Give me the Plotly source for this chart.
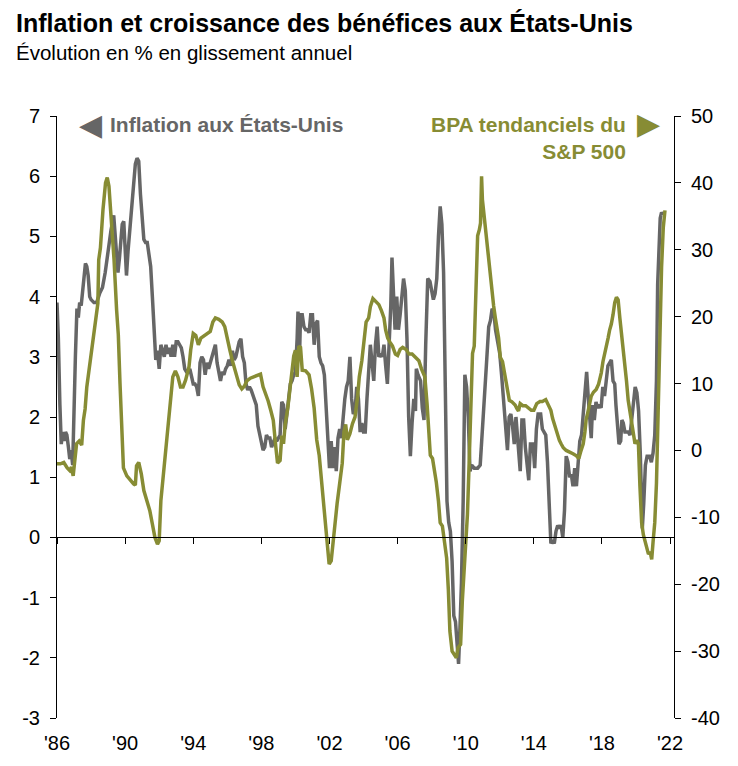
import plotly.graph_objects as go

# ---------------- data ----------------
infl_x = [1986.0, 1986.08, 1986.17, 1986.25, 1986.33, 1986.42, 1986.5, 1986.58, 1986.67, 1986.75, 1986.83, 1986.92,
          1987.08, 1987.17, 1987.25, 1987.33, 1987.42, 1987.5, 1987.58, 1987.67, 1987.75, 1987.83, 1987.92,
          1988.0, 1988.17, 1988.33, 1988.5, 1988.67, 1988.83, 1989.0, 1989.17, 1989.33, 1989.42, 1989.5, 1989.58,
          1989.67, 1989.75, 1989.83, 1989.92, 1990.0, 1990.08, 1990.17, 1990.25, 1990.4, 1990.5, 1990.6, 1990.7,
          1990.8, 1990.9, 1991.0, 1991.1, 1991.2, 1991.3, 1991.4, 1991.5, 1991.6, 1991.7, 1991.8, 1991.9,
          1992.0, 1992.1, 1992.2, 1992.3, 1992.4, 1992.5, 1992.6, 1992.7, 1992.8, 1992.9, 1993.0, 1993.1,
          1993.2, 1993.3, 1993.4, 1993.5, 1993.6, 1993.7, 1993.8, 1993.9, 1994.0, 1994.1, 1994.2, 1994.3,
          1994.4, 1994.5, 1994.6, 1994.7, 1994.8, 1994.9, 1995.0, 1995.1, 1995.2, 1995.3, 1995.4, 1995.5,
          1995.6, 1995.7, 1995.8, 1995.9, 1996.0, 1996.1, 1996.2, 1996.3, 1996.4, 1996.5, 1996.6, 1996.7,
          1996.8, 1996.9, 1997.0, 1997.1, 1997.2, 1997.3, 1997.4, 1997.5, 1997.6, 1997.7, 1997.8, 1997.9,
          1998.0, 1998.1, 1998.2, 1998.3, 1998.4, 1998.5, 1998.6, 1998.7, 1998.8, 1998.9, 1999.0, 1999.1,
          1999.2, 1999.3, 1999.4, 1999.5, 1999.6, 1999.7, 1999.8, 1999.9, 2000.0, 2000.1, 2000.15, 2000.2,
          2000.25, 2000.3, 2000.4, 2000.5, 2000.6, 2000.7, 2000.8, 2000.9, 2001.0, 2001.1, 2001.2, 2001.3,
          2001.4, 2001.5, 2001.6, 2001.7, 2001.8, 2001.9, 2002.0, 2002.1, 2002.2, 2002.3, 2002.4, 2002.5,
          2002.6, 2002.7, 2002.8, 2002.9, 2003.0, 2003.1, 2003.2, 2003.3, 2003.4, 2003.5, 2003.6, 2003.7,
          2003.8, 2003.9, 2004.0, 2004.1, 2004.2, 2004.3, 2004.4, 2004.5, 2004.6, 2004.7, 2004.8, 2004.9,
          2005.0, 2005.1, 2005.2, 2005.3, 2005.4, 2005.5, 2005.6, 2005.67, 2005.75, 2005.85, 2005.95, 2006.05,
          2006.15, 2006.25, 2006.35, 2006.45, 2006.55, 2006.65, 2006.75, 2006.85, 2006.95, 2007.05, 2007.1,
          2007.2, 2007.35, 2007.45, 2007.55, 2007.65, 2007.77, 2007.9, 2008.0, 2008.1, 2008.2, 2008.3, 2008.4,
          2008.5, 2008.6, 2008.7, 2008.8, 2008.9, 2009.0, 2009.1, 2009.2, 2009.3, 2009.4, 2009.5, 2009.58,
          2009.65, 2009.75, 2009.85, 2009.95, 2010.05, 2010.15, 2010.25, 2010.35, 2010.5, 2010.7, 2010.85,
          2010.95, 2011.05, 2011.2, 2011.35, 2011.45, 2011.55, 2011.65, 2011.75, 2011.85, 2012.0, 2012.12,
          2012.25, 2012.37, 2012.45, 2012.55, 2012.65, 2012.75, 2012.85, 2012.95, 2013.05, 2013.2, 2013.3,
          2013.4, 2013.5, 2013.6, 2013.7, 2013.8, 2013.95, 2014.05, 2014.15, 2014.25, 2014.4, 2014.5, 2014.6,
          2014.7, 2014.8, 2014.9, 2015.0, 2015.1, 2015.2, 2015.3, 2015.4, 2015.5, 2015.6, 2015.7, 2015.8,
          2015.9, 2016.0, 2016.1, 2016.2, 2016.3, 2016.4, 2016.5, 2016.6, 2016.7, 2016.8, 2016.9, 2017.0,
          2017.1, 2017.2, 2017.3, 2017.37, 2017.45, 2017.55, 2017.65, 2017.75, 2017.85, 2017.95, 2018.05,
          2018.15, 2018.25, 2018.35, 2018.45, 2018.55, 2018.65, 2018.75, 2018.82, 2018.92, 2019.0, 2019.1,
          2019.17, 2019.25, 2019.35, 2019.45, 2019.55, 2019.65, 2019.75, 2019.85, 2019.95, 2020.05, 2020.15,
          2020.25, 2020.3, 2020.37, 2020.45, 2020.55, 2020.65, 2020.8, 2020.9, 2021.0, 2021.1, 2021.2,
          2021.27, 2021.35, 2021.42, 2021.5, 2021.58]
infl_y = [3.9, 3.3, 2.2, 1.55, 1.75, 1.6, 1.75, 1.7, 1.5, 1.3, 1.45, 1.2,
          3.0, 3.8, 3.65, 3.9, 3.85, 4.1, 4.4, 4.55, 4.5, 4.35, 4.0,
          3.95, 3.9, 3.9, 4.05, 4.15, 4.4, 4.8, 5.1, 5.35, 5.0, 4.8, 4.4,
          4.65, 4.9, 5.2, 5.25, 4.7, 4.35, 4.75, 5.0, 5.5, 5.9, 6.2, 6.3,
          6.25, 5.7, 5.3, 4.95, 4.9, 4.9, 4.7, 4.5, 4.0, 3.5, 2.95, 3.1,
          2.8, 3.2, 3.1, 3.0, 3.2, 3.05, 3.15, 3.0, 3.2, 3.0, 3.25, 3.25,
          3.2, 3.15, 3.0, 2.8, 2.75, 2.75, 2.8, 2.7, 2.55, 2.55, 2.5, 2.35,
          2.9, 3.0, 2.95, 2.7, 2.9, 2.8, 2.9, 3.0, 3.15, 3.2, 2.9, 2.7,
          2.6, 2.75, 2.7, 2.8, 2.85, 2.95, 2.85, 3.1, 2.95, 3.0, 3.15, 3.25,
          3.3, 3.0, 2.9, 2.55, 2.45, 2.5, 2.45, 2.35, 2.25, 2.2, 1.85, 1.7,
          1.6, 1.45, 1.5, 1.7, 1.65, 1.65, 1.5, 1.6, 1.65, 1.6, 1.65, 1.7,
          2.25, 2.2, 1.8, 2.0, 2.3, 2.55, 2.6, 2.7, 2.75, 3.3, 3.75, 3.4,
          3.1, 3.7, 3.7, 3.5, 3.45, 3.45, 3.4, 3.7, 3.7, 3.2, 3.55, 3.6,
          3.0, 2.9, 2.85, 2.7, 2.15, 1.5, 1.15, 1.6, 1.15, 1.5, 1.1, 1.65,
          1.8, 1.65, 2.05, 2.3, 2.5, 2.6, 3.0, 2.3, 2.05, 2.1, 2.5, 2.3,
          1.75, 1.9, 1.75, 1.75, 2.3, 2.9, 3.2, 2.9, 2.6, 3.2, 3.5, 3.0,
          3.05, 3.0, 3.2, 2.85, 2.55, 3.2, 3.85, 4.65, 4.2, 3.45, 4.0, 3.45,
          3.7, 4.1, 4.3, 4.1, 3.3, 2.0, 1.35, 1.9, 2.3, 2.1, 2.8,
          2.7, 2.6, 2.15, 1.95, 3.2, 4.3, 4.25, 4.1, 3.95, 4.05, 4.3, 5.0,
          5.5, 5.2, 4.4, 2.5, 0.6, 0.25, 0.1, -0.4, -1.3, -1.4, -1.9, -2.1,
          -1.6, -0.75, 0.6, 2.7, 2.5, 2.0, 1.1, 1.2, 1.15, 1.15, 1.2,
          1.6, 2.1, 2.8, 3.5, 3.6, 3.8, 3.75, 3.45, 3.3, 3.05, 2.65,
          2.15, 1.85, 1.45, 2.0, 2.05, 1.85, 1.55, 2.0, 1.6, 1.1, 1.95,
          1.95, 1.5, 1.2, 0.95, 1.55, 1.55, 1.15, 1.8, 2.05, 2.05, 1.8, 1.75,
          1.7, 1.25, 0.4, -0.1, -0.05, -0.1, 0.1, 0.2, 0.15, 0.2, 0.0, 0.45,
          1.35, 1.25, 1.0, 1.05, 0.85, 1.15, 0.85, 1.2, 1.6, 1.7, 2.1, 2.5,
          2.75, 2.3, 1.85, 1.65, 2.2, 1.95, 2.25, 2.15, 2.2, 2.15, 2.5,
          2.35, 2.6, 2.85, 2.9, 2.95, 2.6, 2.55, 2.2, 1.75, 1.55, 1.6,
          1.95, 1.9, 1.75, 1.75, 1.75, 1.7, 1.95, 2.15, 2.5, 2.4, 2.1,
          1.4, 0.6, 0.15, 0.55, 1.2, 1.35, 1.35, 1.25, 1.4, 1.7, 2.6,
          4.2, 5.0, 5.3, 5.4, 5.35]

eps_x = [1986.0, 1986.2, 1986.4, 1986.5, 1986.6, 1986.75, 1986.85, 1986.95, 1987.05, 1987.15, 1987.3, 1987.45,
         1987.55, 1987.65, 1987.75, 1987.85, 1987.95, 1988.1, 1988.3, 1988.4, 1988.45, 1988.55, 1988.7, 1988.85,
         1988.95, 1989.05, 1989.2, 1989.35, 1989.5, 1989.6, 1989.7, 1989.8, 1989.9, 1990.1, 1990.3, 1990.5,
         1990.6, 1990.67, 1990.8, 1990.95, 1991.1, 1991.3, 1991.45, 1991.6, 1991.75, 1991.9, 1992.0, 1992.1,
         1992.3, 1992.45, 1992.65, 1992.8, 1992.95, 1993.1, 1993.25, 1993.4, 1993.55, 1993.75, 1993.85, 1994.0,
         1994.15, 1994.3, 1994.45, 1994.65, 1994.85, 1995.0, 1995.15, 1995.3, 1995.5, 1995.7, 1995.85, 1996.0,
         1996.15, 1996.3, 1996.5, 1996.7, 1996.85, 1997.0, 1997.15, 1997.35, 1997.55, 1997.75, 1997.95, 1998.1,
         1998.25, 1998.4, 1998.55, 1998.7, 1998.85, 1998.95, 1999.1, 1999.2, 1999.3, 1999.4, 1999.55, 1999.7,
         1999.8, 1999.9, 2000.0, 2000.1, 2000.2, 2000.3, 2000.4, 2000.6, 2000.8, 2000.95, 2001.1, 2001.25,
         2001.4, 2001.5, 2001.65, 2001.78, 2001.88, 2001.98, 2002.1, 2002.2, 2002.3, 2002.45, 2002.6, 2002.75,
         2002.85, 2002.95, 2003.05, 2003.2, 2003.35, 2003.5, 2003.65, 2003.75, 2003.9, 2004.0, 2004.15, 2004.3,
         2004.4, 2004.55, 2004.75, 2004.9, 2005.05, 2005.2, 2005.3, 2005.42, 2005.55, 2005.7, 2005.87, 2006.0,
         2006.15, 2006.3, 2006.5, 2006.67, 2006.85, 2007.05, 2007.25, 2007.4, 2007.6, 2007.73, 2007.83, 2007.92,
         2008.05, 2008.17, 2008.27, 2008.4, 2008.5, 2008.63, 2008.75, 2008.88, 2008.98, 2009.07, 2009.2, 2009.35,
         2009.45, 2009.55, 2009.7, 2009.8, 2009.9, 2010.0, 2010.1, 2010.2, 2010.27, 2010.33, 2010.4, 2010.5,
         2010.6, 2010.7, 2010.8, 2010.87, 2010.93, 2010.98, 2011.06, 2011.15, 2011.3, 2011.42, 2011.54, 2011.64,
         2011.74, 2011.84, 2011.93, 2012.03, 2012.16, 2012.25, 2012.37, 2012.47, 2012.56, 2012.7, 2012.8, 2012.9,
         2013.0, 2013.1, 2013.2, 2013.35, 2013.52, 2013.65, 2013.85, 2014.0, 2014.17, 2014.36, 2014.5, 2014.7,
         2014.85, 2015.0, 2015.1, 2015.2, 2015.3, 2015.4, 2015.5, 2015.6, 2015.73, 2015.9, 2016.1, 2016.3,
         2016.5, 2016.64, 2016.75, 2016.9, 2017.0, 2017.07, 2017.17, 2017.27, 2017.37, 2017.5, 2017.66, 2017.8,
         2017.96, 2018.06, 2018.16, 2018.26, 2018.36, 2018.45, 2018.55, 2018.65, 2018.75, 2018.85, 2018.95, 2019.05,
         2019.15, 2019.25, 2019.35, 2019.44, 2019.54, 2019.64, 2019.74, 2019.84, 2019.94, 2020.04, 2020.14, 2020.23,
         2020.33, 2020.43, 2020.53, 2020.63, 2020.73, 2020.83, 2020.92, 2021.0, 2021.1, 2021.2, 2021.3, 2021.4,
         2021.5, 2021.6, 2021.7]
eps_y = [-2.0, -2.0, -1.8, -2.3, -2.6, -3.0, -2.5, -3.8, -1.0, 1.0, 1.4, 0.8,
         4.5, 6.2, 9.5, 11.5, 13.8, 16.2, 20.0, 22.0, 28.5, 30.3, 36.0, 40.0,
         40.8, 39.5, 34.0, 28.5, 21.0, 17.3, 10.0, 2.0, -2.6, -3.8, -4.5, -5.0,
         -5.2, -2.3, -1.8, -3.5, -6.0, -7.5, -9.0, -11.0, -13.0, -14.0, -13.5, -7.5,
         -2.0, 2.2, 6.8, 11.0, 11.9, 11.0, 9.5, 9.5, 10.5, 12.5, 15.0, 17.5,
         17.2, 15.8, 16.8, 17.2, 17.6, 17.8, 19.2, 19.8, 19.6, 19.2, 18.5, 17.0,
         15.0, 13.4, 11.5, 9.8, 9.2, 9.6, 10.4, 10.8, 11.0, 11.2, 11.4, 9.5,
         8.5, 7.4, 6.0, 4.5, 0.5, -1.9, -1.5, 2.2, 1.0, 3.9, 6.3, 9.9,
         12.2, 14.1, 15.0, 11.0, 15.6, 15.4, 12.0, 11.9, 11.3, 9.2, 6.3, 1.6,
         -0.8, -3.7, -7.2, -11.9, -15.0, -17.0, -16.5, -13.7, -11.4, -7.9, -4.9, -1.9,
         2.8, 3.9, 1.6, 2.5, 4.0, 5.0, 8.0, 11.0, 13.4, 15.7, 19.2, 19.8,
         21.5, 22.7, 22.1, 21.8, 20.9, 19.8, 18.0, 16.8, 16.2, 15.6, 14.4, 14.2,
         15.1, 15.4, 15.1, 14.4, 14.4, 13.9, 13.4, 12.2, 11.0, 7.0, 2.9, -0.7,
         -1.2, -2.9, -4.7, -7.6, -10.8, -11.3, -13.7, -16.1, -20.8, -27.0, -30.0, -30.5,
         -31.0, -29.5, -29.0, -22.5, -18.4, -13.7, -9.6, -1.9, 3.9, 10.4, 14.5, 15.6,
         25.1, 32.1, 33.0, 34.0, 41.0, 37.5, 35.6, 33.3, 30.3, 26.2, 23.9, 21.6,
         19.8, 18.0, 16.8, 13.9, 13.3, 12.0, 10.4, 8.7, 7.5, 7.3, 7.0, 6.8,
         6.3, 5.9, 7.0, 6.7, 6.7, 6.4, 6.0, 6.0, 7.0, 7.3, 7.3, 7.6,
         6.8, 6.0, 4.8, 3.9, 3.0, 2.2, 1.5, 1.0, 0.4, 0.0, -0.2, -0.5,
         -0.8, -1.2, -0.2, 1.0, 2.8, 4.6, 5.7, 7.0, 8.1, 8.7, 9.1, 9.9,
         11.6, 13.3, 14.5, 15.1, 16.8, 18.0, 18.9, 20.3, 22.1, 22.9, 22.5, 19.8,
         17.5, 15.6, 13.4, 10.4, 7.5, 5.7, 3.9, 2.2, 1.0, 1.5, 1.0, -5.4,
         -10.8, -12.6, -13.7, -14.9, -15.5, -15.2, -16.3, -13.7, -10.8, -4.9, 6.8, 18.6,
         27.4, 33.3, 35.9]

tick_years = [1986, 1990, 1994, 1998, 2002, 2006, 2010, 2014, 2018, 2022]
tick_labels = ["'86", "'90", "'94", "'98", "'02", "'06", "'10", "'14", "'18", "'22"]
left_ticks = [-3, -2, -1, 0, 1, 2, 3, 4, 5, 6, 7]
left_labels = ["-3", "-2", "-1", "0", "1", "2", "3", "4", "5", "6", "7"]
right_ticks = [-40, -30, -20, -10, 0, 10, 20, 30, 40, 50]
right_labels = ["-40", "-30", "-20", "-10", "0", "10", "20", "30", "40", "50"]

title_text = "Inflation et croissance des bénéfices aux États-Unis"
subtitle_text = "Évolution en % en glissement annuel"
infl_name = "Inflation aux États-Unis"
eps_name = "BPA tendanciels du<br>S&P 500"

# ---------------- styling ----------------
GRAY = "#666666"
OLIVE = "#878C34"
FONT = "Liberation Sans, Arial, sans-serif"

# the page adds an 8 px body margin, so the figure is made 8 px smaller
OFF = 8
W, H = 738 - OFF, 766 - OFF
# target plot-area edges in window pixels
L0, R0, T0, B0 = 57, 674, 116, 722
L, R, T, B = L0 - OFF, R0 - OFF, T0 - OFF, B0 - OFF


def px(x):  # window x pixel -> paper fraction
    return (x - L0) / (R0 - L0)


def py(y):  # window y pixel -> paper fraction
    return (B0 - y) / (B0 - T0)


fig = go.Figure()
fig.add_trace(go.Scatter(x=infl_x, y=infl_y, mode="lines", xaxis="x", yaxis="y",
                         line=dict(color=GRAY, width=3.5), name=infl_name))
fig.add_trace(go.Scatter(x=eps_x, y=eps_y, mode="lines", xaxis="x2", yaxis="y2",
                         line=dict(color=OLIVE, width=3.5), name="BPA"))

xr = [1986, 2022.23]
fig.update_layout(
    width=W, height=H,
    margin=dict(l=L, r=W - R, t=T, b=H - B, pad=0),
    paper_bgcolor="white", plot_bgcolor="white",
    showlegend=False,
    font=dict(family=FONT, color="black", size=20),
    xaxis=dict(range=xr, tickvals=tick_years, ticktext=tick_labels, showline=False, ticks="",
               showgrid=False, zeroline=False, tickfont=dict(size=20), ticklabelstandoff=11),
    xaxis2=dict(range=xr, overlaying="x", anchor="free", position=0.3, side="bottom",
                tickvals=tick_years, ticks="outside", ticklen=6, tickcolor="black", tickwidth=1,
                showline=True, linecolor="black", linewidth=1, showticklabels=False,
                showgrid=False, zeroline=False),
    yaxis=dict(range=[-3, 7], tickvals=left_ticks, ticktext=left_labels, ticks="outside",
               ticklen=6, tickcolor="black", showline=True, linecolor="black", linewidth=1,
               showgrid=False, zeroline=False, tickfont=dict(size=20), ticklabelstandoff=6),
    yaxis2=dict(range=[-40, 50], tickvals=right_ticks, ticktext=right_labels, overlaying="y",
                side="right", anchor="x", ticks="outside", ticklen=6, tickcolor="black",
                showline=True, linecolor="black", linewidth=1, showgrid=False, zeroline=False,
                tickfont=dict(size=20), ticklabelstandoff=6),
)

ann = [
    dict(text="<b>" + title_text + "</b>", x=px(14), y=py(22), xanchor="left", yanchor="middle",
         font=dict(size=25, color="black")),
    dict(text=subtitle_text, x=px(14), y=py(52), xanchor="left", yanchor="middle",
         font=dict(size=20.5, color="black")),
    dict(text="◀", x=px(90), y=py(125), xanchor="center", yanchor="middle",
         font=dict(family="DejaVu Sans", size=30, color=GRAY)),
    dict(text="<b>" + infl_name + "</b>", x=px(108), y=py(125), xanchor="left", yanchor="middle",
         font=dict(size=21, color=GRAY)),
    dict(text="<b>" + eps_name + "</b>", x=px(628), y=py(138), xanchor="right", yanchor="middle",
         align="right", font=dict(size=21, color=OLIVE)),
    dict(text="▶", x=px(648), y=py(124), xanchor="center", yanchor="middle",
         font=dict(family="DejaVu Sans", size=30, color=OLIVE)),
]
for a in ann:
    a.update(xref="paper", yref="paper", showarrow=False)
fig.update_layout(annotations=ann)

fig.write_html("out.html")
